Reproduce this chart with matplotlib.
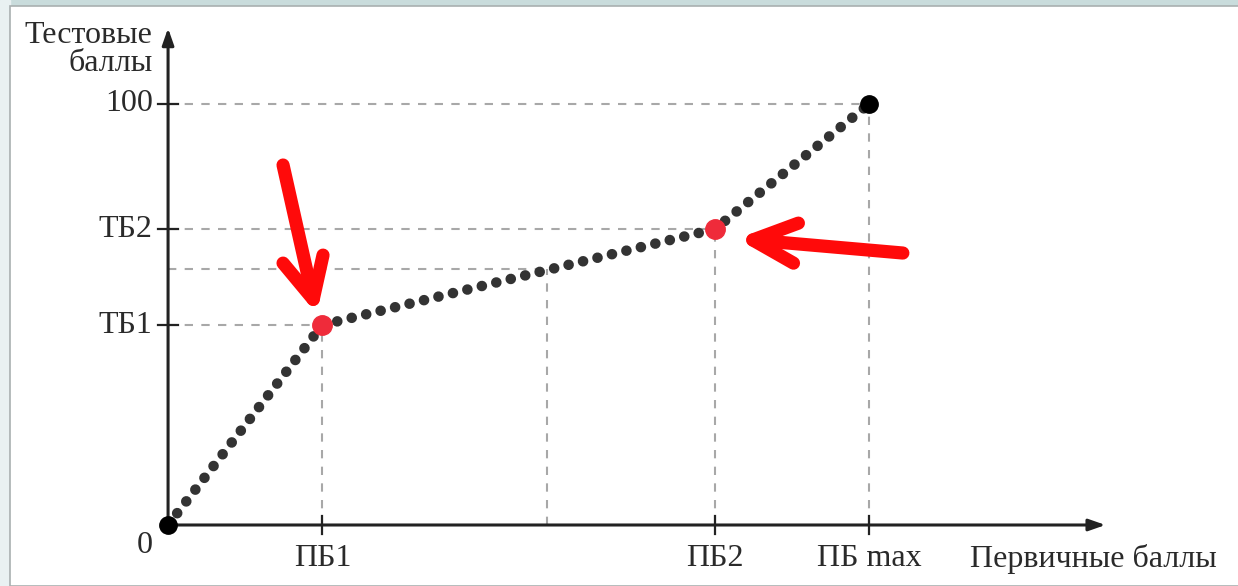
import matplotlib.pyplot as plt
from matplotlib.patches import Rectangle

plt.rcParams['font.family'] = ['Liberation Serif', 'DejaVu Serif']

# шкала: первичные баллы (условно 0..100) -> тестовые баллы
pb = [0, 22, 78, 100]
tb = [0, 47.5, 70.3, 100]
pb_mid = 54
tb_mid = 60.8

x_ticks = [22, 78, 100]
x_labels = ['ПБ1', 'ПБ2', 'ПБ max']
y_ticks = [47.5, 70.3, 100]
y_labels = ['ТБ1', 'ТБ2', '100']

# красные стрелки (в координатах данных)
arrow1_shaft = ([16.4, 20.7], [85.5, 53.6])
arrow1_head = ([16.4, 20.7, 22.1], [62.2, 53.6, 64.1])
arrow2_shaft = ([104.8, 83.4], [64.6, 67.7])
arrow2_head = ([89.9, 83.4, 89.2], [71.7, 67.7, 62.2])

fig = plt.figure(figsize=(12.38, 5.86), dpi=100)
fig.patch.set_facecolor('#c9dcdc')
fig.patches.append(Rectangle((0, 0), 10 / 1238, 1, transform=fig.transFigure,
                             color='#e9f1f2', zorder=-2))
fig.patches.append(Rectangle((10 / 1238, 0), 1, 580 / 586, transform=fig.transFigure,
                             facecolor='white', edgecolor='#a9b0b0', lw=1.2, zorder=-1))

ax = fig.add_axes([0, 0, 1, 1])
ax.set_facecolor('none')
ax.set_xlim(-23.97, 152.6)
ax.set_ylim(-14.49, 124.7)
ax.axis('off')

dash = dict(color='#a8a8a8', lw=1.5, ls=(0, (4, 4)), zorder=1)
# пунктирные проекции
for xv, yv in zip(pb[1:], tb[1:]):
    ax.plot([0, xv], [yv, yv], **dash)
    ax.plot([xv, xv], [0, yv], **dash)
ax.plot([0, pb_mid], [tb_mid, tb_mid], **dash)
ax.plot([pb_mid, pb_mid], [0, tb_mid], **dash)

# оси со стрелками
ax.annotate('', xy=(133.7, 0), xytext=(0, 0),
            arrowprops=dict(arrowstyle='-|>,head_length=1.0,head_width=0.35',
                            color='#222222', lw=2.2, shrinkA=0, shrinkB=0), zorder=3)
ax.annotate('', xy=(0, 118.0), xytext=(0, 0),
            arrowprops=dict(arrowstyle='-|>,head_length=1.0,head_width=0.35',
                            color='#222222', lw=2.2, shrinkA=0, shrinkB=0), zorder=3)

# штрихи делений
for xv in x_ticks:
    ax.plot([xv, xv], [-2.2, 2.2], color='#222222', lw=1.6, zorder=3)
for yv in y_ticks:
    ax.plot([-1.4, 1.4], [yv, yv], color='#222222', lw=1.6, zorder=3)

fs = 23
tc = '#2a2a2a'
for xv, lab in zip(x_ticks, x_labels):
    ax.text(xv, -4.5, lab, ha='center', va='top', fontsize=fs, color=tc)
for yv, lab in zip(y_ticks, y_labels):
    ax.text(-2.2, yv, lab, ha='right', va='center', fontsize=fs, color=tc)
ax.text(-2.2, -1.5, '0', ha='right', va='top', fontsize=fs, color=tc)
ax.text(-2.2, 113, 'Тестовые\nбаллы', ha='right', va='center', fontsize=fs,
        color=tc, linespacing=0.95)
ax.text(149.5, -4.5, 'Первичные баллы', ha='right', va='top', fontsize=fs, color=tc)

# точечная линия
ax.plot(pb, tb, color='#333333', lw=7.6, ls=(0, (0.01, 1.4)),
        dash_capstyle='round', zorder=4)
ax.plot([pb[0], pb[-1]], [tb[0], tb[-1]], 'o', color='black', ms=12.5, zorder=5)
ax.plot(pb[1:3], tb[1:3], 'o', color='#ef2b3a', ms=14, zorder=5)

# красные стрелки
red = dict(color='#ff0a0a', lw=9.5, solid_capstyle='round', solid_joinstyle='round', zorder=6)
ax.plot(*arrow1_shaft, **red)
ax.plot(*arrow1_head, **red)
ax.plot(*arrow2_shaft, **red)
ax.plot(*arrow2_head, **red)

fig.savefig('out.png', dpi=100)
